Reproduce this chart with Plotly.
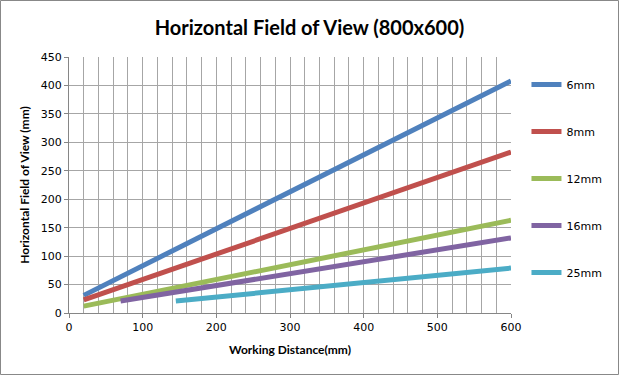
import plotly.graph_objects as go

lens = ["6mm", "8mm", "12mm", "16mm", "25mm"]
wd_start = [20, 20, 20, 70, 145]
wd_end = [600, 600, 600, 600, 600]
fov_start = [31, 23, 12, 21, 21]
fov_end = [408, 283, 163, 132, 79]
colors = ["#4F81BD", "#C0504D", "#9BBB59", "#8064A2", "#4BACC6"]

x_ticks = [0, 100, 200, 300, 400, 500, 600]
y_ticks = [0, 50, 100, 150, 200, 250, 300, 350, 400, 450]

fig = go.Figure()
for i, name in enumerate(lens):
    fig.add_trace(go.Scatter(
        x=[wd_start[i], wd_end[i]], y=[fov_start[i], fov_end[i]],
        mode="lines", name=name, legendgroup=name,
        line=dict(color=colors[i], width=5),
    ))

W, H = 619, 375
ml, mr, mt, mb = 69, 108, 57, 62
pw, ph = W - ml - mr, H - mt - mb

fig.update_layout(
    width=W, height=H,
    margin=dict(l=ml, r=mr, t=mt, b=mb, autoexpand=False),
    paper_bgcolor="white", plot_bgcolor="white",
    title=dict(text="<b>Horizontal Field of View (800x600)</b>",
               font=dict(family="Lato", size=20, color="black"),
               x=0.5, xanchor="center", y=1 - 28 / H, yanchor="middle"),
    font=dict(family="DejaVu Sans", size=11, color="black"),
    legend=dict(x=1.035, xanchor="left", y=1 - (84 - 57 - 14) / ph, yanchor="top",
                tracegroupgap=28, font=dict(family="DejaVu Sans", size=11),
                bgcolor="rgba(0,0,0,0)"),
    showlegend=True,
    shapes=[dict(type="rect", xref="paper", yref="paper",
                 x0=(0.5 - ml) / pw, x1=(W - 0.5 - ml) / pw,
                 y0=(mt + ph - (H - 0.5)) / ph, y1=(mt + ph - 0.5) / ph,
                 line=dict(color="#888888", width=1))],
)
fig.update_xaxes(
    range=[0, 600], tickvals=x_ticks, ticktext=[str(v) for v in x_ticks],
    showgrid=True, gridcolor="#A6A6A6", gridwidth=1,
    minor=dict(dtick=20, showgrid=True, gridcolor="#A6A6A6", gridwidth=1),
    showline=True, linecolor="#868686", linewidth=1,
    ticks="outside", ticklen=4, tickcolor="#868686",
    zeroline=False, automargin=False,
    title=dict(text="<b>Working Distance(mm)</b>",
               font=dict(family="Lato", size=12, color="black"), standoff=12),
)
fig.update_yaxes(
    range=[0, 450], tickvals=y_ticks, ticktext=[str(v) for v in y_ticks],
    showgrid=True, gridcolor="#A6A6A6", gridwidth=1,
    showline=True, linecolor="#868686", linewidth=1,
    ticks="outside", ticklen=4, tickcolor="#868686",
    zeroline=False, automargin=False,
    title=dict(text="<b>Horizontal Field of View (mm)</b>",
               font=dict(family="Lato", size=12, color="black"), standoff=8),
)

fig.write_html("out.html", config={"displayModeBar": False},
               post_script="document.body.style.margin='0';")
